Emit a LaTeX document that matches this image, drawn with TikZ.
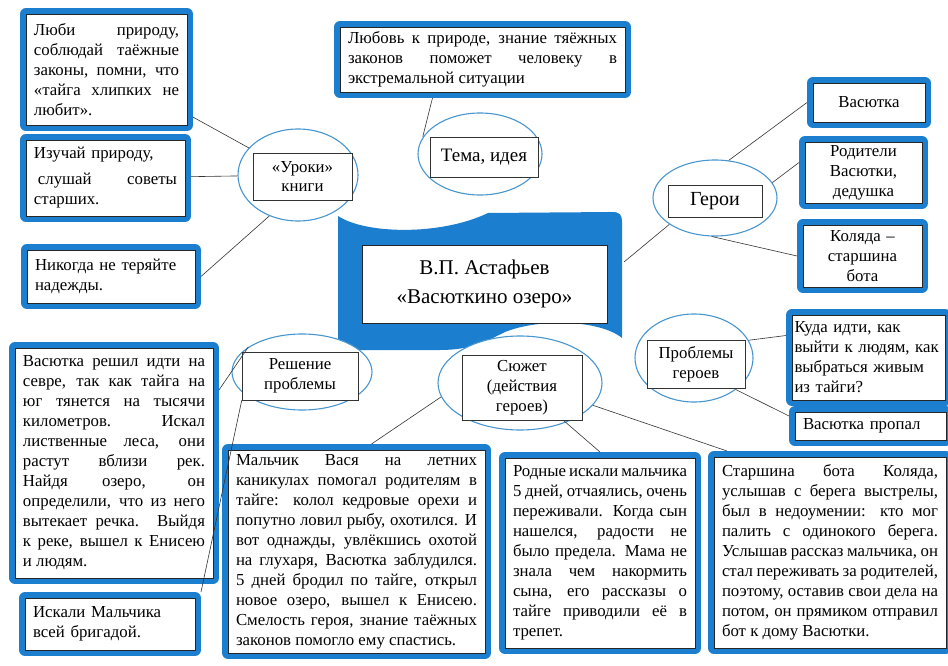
\documentclass[tikz,border=0pt]{standalone}
\usepackage{fontspec}
\setmainfont{Liberation Serif}
\usetikzlibrary{shapes,positioning}
\hyphenpenalty=10000
\tolerance=10000
\definecolor{cardblue}{RGB}{28,126,206}
\definecolor{ringblue}{RGB}{72,150,208}
\newcommand{\cardfont}{\fontsize{16.8}{20}\selectfont}
\tikzstyle{card} = [rectangle,draw=black!85,line width=.6pt,fill=white,inner xsep=8pt,inner ysep=2pt,outer sep=6pt,align=justify,font=\cardfont,preaction={draw=cardblue,line width=12pt,line join=round}]
\tikzstyle{ring} = [ellipse,draw=ringblue,line width=1.1pt,fill=white,inner sep=0pt]
\tikzstyle{tag} = [rectangle,draw=black!80,line width=.5pt,fill=white,align=center,inner sep=2pt,font=\cardfont]
\tikzstyle{link} = [-,line width=.6pt,black!80]

\begin{document}
\begin{tikzpicture}[x=1pt,y=-1pt]
      \useasboundingbox (0,0) rectangle (948,666);
      \fill[cardblue] (338,216) .. controls (365,234) and (440,236) .. (488,213) -- (612,212) .. controls (620,212) and (622,215) .. (622,222) -- (622,338) .. controls (600,320) and (540,318) .. (505,332) .. controls (485,342) and (470,350) .. (440,350) -- (348,350) .. controls (341,350) and (338,346) .. (338,340) -- cycle;
      \node[rectangle,draw=black!85,line width=.6pt,fill=white,minimum width=245,minimum height=78,align=center,font=\fontsize{21}{29}\selectfont] (title) at (484.5,284) {В.П. Астафьев\\«Васюткино озеро»};
      \coordinate (bannerEdge) at (624,262);

      \node[ring,minimum width=120,minimum height=92] (lessons) at (298,175) {};
      \node[tag,minimum width=99,minimum height=47] (lessonsTag) at (302.5,176.5) {«Уроки»\\книги};
      \node[ring,minimum width=124,minimum height=82] (theme) at (480,154) {};
      \node[tag,minimum width=108,minimum height=40,font=\fontsize{19}{22}\selectfont] (themeTag) at (484,157) {Тема, идея};
      \node[ring,minimum width=124,minimum height=76] (heroes) at (715,198) {};
      \node[tag,minimum width=94,minimum height=32,font=\fontsize{20}{22}\selectfont] (heroesTag) at (715,201) {Герои};
      \node[ring,minimum width=118,minimum height=88] (troubles) at (694,358) {};
      \node[tag,minimum width=98,minimum height=48] (troublesTag) at (696,364) {Проблемы\\героев};
      \node[ring,minimum width=140,minimum height=76] (answer) at (302,372) {};
      \node[tag,minimum width=116,minimum height=48] (answerTag) at (300,376) {Решение\\проблемы};
      \node[ring,minimum width=164,minimum height=94] (plot) at (520,383) {};
      \node[tag,minimum width=120,minimum height=65] (plotTag) at (522,387.5) {Сюжет\\(действия\\героев)};

      \node[card,text width=145pt,minimum height=111] (love) at (106.5,69.5) {Люби природу,\linebreak соблюдай таёжные\linebreak законы, помни, что\linebreak «тайга хлипких не\linebreak любит».};
      \node[card,align=left,text width=143pt,minimum height=76] (study) at (105.5,178) {Изучай природу,\\[6pt]\hspace*{4pt}слушай\hfill советы\\старших.};
      \node[card,align=left,text width=152pt,minimum height=53] (never) at (111,276.5) {Никогда не теряйте\\надежды.};
      \node[card,text width=269pt,minimum height=65] (idea) at (482.5,59.5) {Любовь к природе, знание тяёжных\linebreak законов поможет человеку в\linebreak экстремальной ситуации};
      \node[card,align=center,text width=96pt,minimum height=39] (vasya) at (869,102.5) {Васютка};
      \node[card,align=center,text width=101pt,minimum height=61] (parents) at (863.5,172.5) {Родители\\Васютки,\\дедушка};
      \node[card,align=center,text width=103pt,minimum height=62] (kolyada) at (862.5,256) {Коляда –\\старшина\\бота};
      \node[card,align=left,text width=148pt,inner xsep=2.5pt,minimum height=85] (kuda) at (868.5,357.5) {Куда идти, как\\выйти к людям, как\\выбраться живым\\из тайги?};
      \node[card,align=left,text width=135pt,minimum height=28] (lost) at (870.5,426) {Васютка пропал};
      \node[card,text width=182pt,minimum height=230] (decided) at (114,463) {Васютка решил идти на\linebreak севре, так как тайга на\linebreak юг тянется на тысячи\linebreak километров. Искал\linebreak лиственные леса, они\linebreak растут вблизи рек.\linebreak Найдя озеро, он\linebreak определили, что из него\linebreak вытекает речка. Выйдя\linebreak к реке, вышел к Енисею\linebreak и людям.};
      \node[card,align=left,text width=154pt,minimum height=52] (search) at (110,624) {Искали Мальчика\\всей бригадой.};
      \node[card,text width=241pt,minimum height=203] (boy) at (356.5,551.5) {Мальчик Вася на летних\linebreak каникулах помогал родителям в\linebreak тайге: колол кедровые орехи и\linebreak попутно ловил рыбу, охотился. И\linebreak вот однажды, увлёкшись охотой\linebreak на глухаря, Васютка заблудился.\linebreak 5 дней бродил по тайге, открыл\linebreak новое озеро, вышел к Енисею.\linebreak Смелость героя, знание таёжных\linebreak законов помогло ему спастись.};
      \node[card,text width=174pt,minimum height=190] (kin) at (600,553) {Родные искали мальчика\linebreak 5 дней, отчаялись, очень\linebreak переживали. Когда сын\linebreak нашелся, радости не\linebreak было предела. Мама не\linebreak знала чем накормить\linebreak сына, его рассказы о\linebreak тайге приводили её в\linebreak трепет.};
      \node[card,text width=216pt,minimum height=191] (elder) at (830,552.5) {Старшина бота Коляда,\linebreak услышав с берега выстрелы,\linebreak был в недоумении: кто мог\linebreak палить с одинокого берега.\linebreak Услышав рассказ мальчика, он\linebreak стал переживать за родителей,\linebreak поэтому, оставив свои дела на\linebreak потом, он прямиком отправил\linebreak бот к дому Васютки.};

      \draw[link] (love) -- (lessons);
      \draw[link] (study) -- (lessons);
      \draw[link] (never.east) -- (lessons.235);
      \draw[link] ([xshift=-50pt]idea.south) -- ([xshift=-7pt]themeTag.north west);
      \draw[link] (heroes.70) -- (vasya.west);
      \draw[link] (heroes.15) -- ([yshift=10pt]parents.west);
      \draw[link] (heroes.265) -- (kolyada.west);
      \draw[link] (bannerEdge) -- (heroes.210);
      \draw[link] (troubles.18) -- ([yshift=22pt]kuda.west);
      \draw[link] (troubles.323) -- ([yshift=10pt]lost.west);
      \draw[link] (answer.155) -- ([yshift=73pt]decided.east);
      \draw[link] (answerTag.south west) -- (search.north east);
      \draw[link] (plot.190) -- ([xshift=15pt]boy.north);
      \draw[link] ([xshift=-19pt]plotTag.south east) -- (kin.north);
      \draw[link] (plot.343) -- ([xshift=19pt]elder.north west);
    \end{tikzpicture}
\end{document}
